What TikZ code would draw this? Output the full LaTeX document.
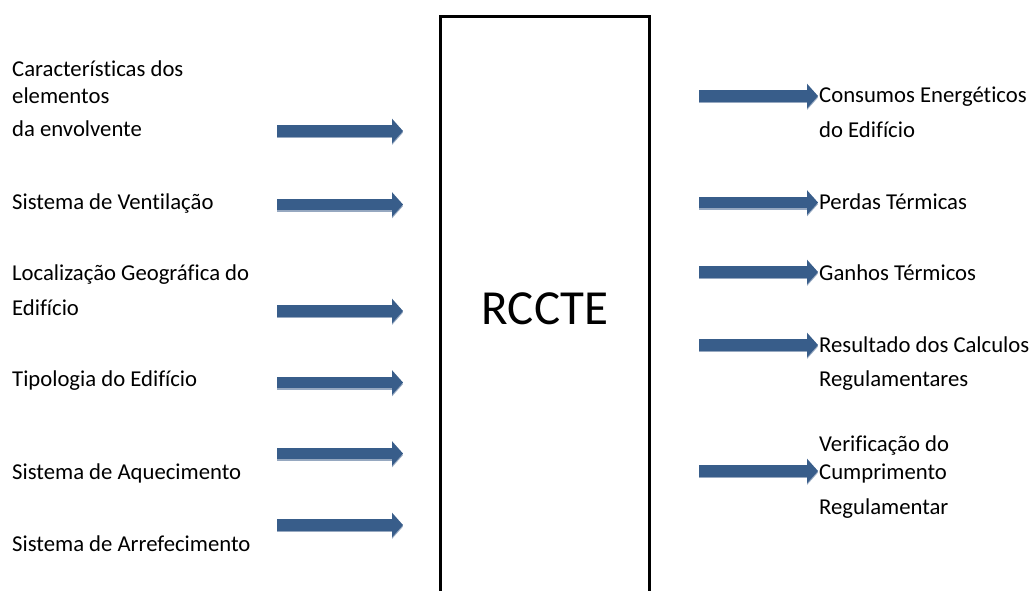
\documentclass[tikz,border=0pt]{standalone}
\usepackage{fontspec}
\setmainfont[RawFeature=-liga]{Carlito}
\usetikzlibrary{arrows.meta}
\definecolor{arrowblue}{RGB}{56,93,138}
\definecolor{arrowedge}{RGB}{150,168,192}
\tikzset{
  label/.style={anchor=base west, inner sep=0pt, font=\fontsize{22.7}{27}\selectfont},
  flow/.style={
    arrowblue, line width=11.5pt,
    -{Triangle[length=11pt,width=24pt]},
    preaction={draw=arrowedge, line width=11.5pt,
      -{Triangle[length=11pt,width=24pt]},
      transform canvas={yshift=-1.6pt}}
  },
  processbox/.style={draw=black, line width=3pt}
}
\begin{document}
\begin{tikzpicture}[x=1pt,y=-1pt]
  \useasboundingbox (0,0) rectangle (1031,591);

  % central block, open at the bottom
  \draw[processbox] (440.5,600) -- (440.5,16.5) -- (649.5,16.5) -- (649.5,600);
  \node[anchor=base, inner sep=0pt, font=\fontsize{49}{58}\selectfont] (rccte) at (545,324) {RCCTE};

  % inputs
  \node[label] (in1a) at (12,77)  {Características dos};
  \node[label] (in1b) at (12,104) {elementos};
  \node[label] (in1c) at (12,137) {da envolvente};
  \node[label] (in2)  at (12,209) {Sistema de Ventilação};
  \node[label] (in3a) at (12,280) {Localização Geográfica do};
  \node[label] (in3b) at (12,315) {Edifício};
  \node[label] (in4)  at (12,386) {Tipologia do Edifício};
  \node[label] (in5)  at (12,479) {Sistema de Aquecimento};
  \node[label] (in6)  at (12,551) {Sistema de Arrefecimento};

  \foreach \i/\y in {1/131, 2/204.5, 3/311, 4/382.5, 5/453.5, 6/525} {
    \coordinate (ls\i) at (277,\y);
    \coordinate (le\i) at (403,\y);
    \draw[flow] (ls\i) -- (le\i);
  }

  % outputs
  \node[label] (out1a) at (819,103) {Consumos Energéticos};
  \node[label] (out1b) at (819,138) {do Edifício};
  \node[label] (out2)  at (819,209) {Perdas Térmicas};
  \node[label] (out3)  at (819,280) {Ganhos Térmicos};
  \node[label] (out4a) at (819,352) {Resultado dos Calculos};
  \node[label] (out4b) at (819,386) {Regulamentares};
  \node[label] (out5a) at (819,451) {Verificação do};
  \node[label] (out5b) at (819,479) {Cumprimento};
  \node[label] (out5c) at (819,514) {Regulamentar};

  \foreach \i/\y in {1/96, 2/202.5, 3/272, 4/345, 5/471} {
    \coordinate (rs\i) at (699,\y);
    \coordinate (re\i) at (818,\y);
    \draw[flow] (rs\i) -- (re\i);
  }
\end{tikzpicture}
\end{document}
